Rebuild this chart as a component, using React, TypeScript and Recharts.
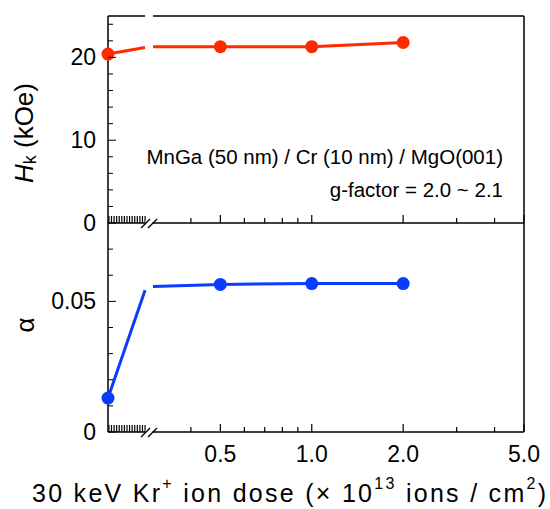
import { Line, LineChart, ReferenceLine, XAxis, YAxis } from 'recharts';

const FONT = 'Arial, "Liberation Sans", Helvetica, sans-serif';
const RED = '#ff2a00';
const BLUE = '#0a3cff';
const INK = '#000';

// dose 0 is the unirradiated film, drawn at the left end of the broken axis
const doses = [0, 0.5, 1.0, 2.0];
const hkValues = [20.4, 21.3, 21.3, 21.8];
const alphaValues = [0.013, 0.0565, 0.0568, 0.0568];
// value of each curve where it meets the axis break (left side, right side)
const hkAtBreak = [21.2, 21.3];
const alphaAtBreak = [0.0543, 0.0557];

const majorDoseTicks = [0.5, 1.0, 2.0, 5.0];
const minorDoseTicks = [0.4, 0.6, 0.7, 0.8, 0.9, 3, 4];
const hkMajorTicks = [0, 10, 20];
const hkMinorTicks = [2, 4, 6, 8, 12, 14, 16, 18, 22, 24];
const alphaMajorTicks = [0, 0.05];
const alphaMinorTicks = [0.01, 0.02, 0.03, 0.04, 0.06, 0.07];

// x axis runs in log10(dose); the zero-dose sample sits left of the break
const X_MIN = -0.671;
const X_MAX = Math.log10(5);
const BREAK_LEFT = -0.549;
const BREAK_RIGHT = Math.log10(0.3);
const BREAK_MID = (BREAK_LEFT + BREAK_RIGHT) / 2;

type Tick = { v: number; kind: 'hatch' | 'break' | 'minor' | 'major' };

const hatchTicks: Tick[] = Array.from({ length: 15 }, (_, i) => ({
  v: X_MIN + 0.003 + i * 0.0085,
  kind: 'hatch',
}));
const xTicks: Tick[] = [
  ...hatchTicks,
  { v: BREAK_MID, kind: 'break' as const },
  ...minorDoseTicks.map((d) => ({ v: Math.log10(d), kind: 'minor' as const })),
  ...majorDoseTicks.map((d) => ({ v: Math.log10(d), kind: 'major' as const })),
].sort((a, b) => a.v - b.v);

const toTicks = (major: number[], minor: number[]): Tick[] =>
  [
    ...major.map((v) => ({ v, kind: 'major' as const })),
    ...minor.map((v) => ({ v, kind: 'minor' as const })),
  ].sort((a, b) => a.v - b.v);

const hkTicks = toTicks(hkMajorTicks, hkMinorTicks);
const alphaTicks = toTicks(alphaMajorTicks, alphaMinorTicks);

function buildRows(values: number[], atBreak: number[]) {
  return [
    { x: X_MIN, y: values[0], point: true },
    { x: BREAK_LEFT, y: atBreak[0], point: false },
    { x: BREAK_MID, y: null, point: false },
    { x: BREAK_RIGHT, y: atBreak[1], point: false },
    ...doses.slice(1).map((d, i) => ({ x: Math.log10(d), y: values[i + 1], point: true })),
  ];
}

const hkRows = buildRows(hkValues, hkAtBreak);
const alphaRows = buildRows(alphaValues, alphaAtBreak);

const textStyle = { fontFamily: FONT, fontWeight: 400 };

// tick marks only; the dose numbers come from a separate label axis
function XTick(props: any) {
  const { x, y, index } = props;
  const t = xTicks[index];
  if (!t) return <g />;
  if (t.kind === 'break') {
    return (
      <g stroke={INK} strokeWidth={1.3}>
        <rect x={x - 3.5} y={y - 2} width={7} height={4} fill="#fff" stroke="none" />
        <line x1={x - 8} y1={y + 5} x2={x + 1} y2={y - 4} />
        <line x1={x - 1} y1={y + 5} x2={x + 8} y2={y - 4} />
      </g>
    );
  }
  const len = t.kind === 'major' ? 8 : t.kind === 'hatch' ? 7 : 5;
  return <line x1={x} y1={y} x2={x} y2={y - len} stroke={INK} strokeWidth={1.2} />;
}

function YTick(props: any) {
  const { x, y, index, ticks, format } = props;
  const t: Tick = ticks[index];
  if (!t) return <g />;
  const len = t.kind === 'major' ? 8 : 5;
  return (
    <g>
      <line x1={x} y1={y} x2={x + len} y2={y} stroke={INK} strokeWidth={1} />
      {t.kind === 'major' && (
        <text x={x - 12} y={y} textAnchor="end" dominantBaseline="central" fontSize={23} style={textStyle} fill={INK}>
          {format(t.v)}
        </text>
      )}
    </g>
  );
}

const dot = (color: string) => (p: any) =>
  p.payload.point ? <circle key={p.index} cx={p.cx} cy={p.cy} r={6.5} fill={color} /> : <g key={p.index} />;

const HkTitle = () => (
  <text x={24} y={133} transform="rotate(-90 24 133)" textAnchor="middle" dominantBaseline="central" fontSize={26} style={textStyle} fill={INK}>
    <tspan fontStyle="italic">H</tspan>
    <tspan fontSize={18} dy={6}>k</tspan>
    <tspan dy={-6}> (kOe)</tspan>
  </text>
);

const AlphaTitle = () => (
  <text x={25} y={112} transform="rotate(-90 25 112)" textAnchor="middle" dominantBaseline="central" fontSize={26} style={textStyle} fill={INK}>
    α
  </text>
);

const DoseTitle = (props: any) => {
  const y = Math.round(props.viewBox.y + 60);
  return (
    <text x={289} y={y} textAnchor="middle" dominantBaseline="central" fontSize={25} textLength={514} lengthAdjust="spacing" style={textStyle} fill={INK}>
      30 keV Kr
      <tspan fontSize={16} dy={-10}>+</tspan>
      <tspan dy={10}> ion dose (× 10</tspan>
      <tspan fontSize={16} dy={-10}>13</tspan>
      <tspan dy={10}> ions / cm</tspan>
      <tspan fontSize={16} dy={-10}>2</tspan>
      <tspan dy={10}>)</tspan>
    </text>
  );
};

const axisLine = { stroke: INK, strokeWidth: 1.5 };

export default function App() {
  return (
    <div style={{ position: 'absolute', left: 0, top: 0, width: 550, height: 509, background: '#fff', fontFamily: FONT }}>
      <div style={{ position: 'absolute', left: 0, top: 0 }}>
        <LineChart width={550} height={245} data={hkRows} margin={{ top: 16, right: 26, bottom: 0, left: 0 }}>
          <XAxis
            type="number"
            dataKey="x"
            domain={[X_MIN, X_MAX]}
            ticks={xTicks.map((t) => t.v)}
            interval={0}
            height={22}
            tickSize={0}
            tickMargin={0}
            tickLine={false}
            axisLine={axisLine}
            tick={<XTick />}
          />
          <YAxis
            type="number"
            domain={[0, 25]}
            ticks={hkTicks.map((t) => t.v)}
            interval={0}
            width={108}
            tickSize={0}
            tickMargin={0}
            tickLine={false}
            axisLine={axisLine}
            tick={<YTick ticks={hkTicks} format={(v: number) => String(v)} />}
            label={{ content: () => <HkTitle /> }}
          />
          <ReferenceLine segment={[{ x: X_MIN, y: 25 }, { x: BREAK_LEFT, y: 25 }]} stroke={INK} strokeWidth={1.5} />
          <ReferenceLine segment={[{ x: BREAK_RIGHT, y: 25 }, { x: X_MAX, y: 25 }]} stroke={INK} strokeWidth={1.5} />
          <ReferenceLine x={X_MAX} stroke={INK} strokeWidth={1.5} />
          <Line
            dataKey="y"
            type="linear"
            stroke={RED}
            strokeWidth={3}
            dot={dot(RED)}
            activeDot={false}
            connectNulls={false}
            isAnimationActive={false}
          />
        </LineChart>
      </div>
      <div style={{ position: 'absolute', left: 0, top: 213 }}>
        <LineChart width={550} height={296} data={alphaRows} margin={{ top: 10, right: 26, bottom: 0, left: 0 }}>
          <XAxis
            type="number"
            dataKey="x"
            domain={[X_MIN, X_MAX]}
            ticks={xTicks.map((t) => t.v)}
            interval={0}
            height={1}
            tickSize={0}
            tickMargin={0}
            tickLine={false}
            axisLine={axisLine}
            tick={<XTick />}
          />
          <XAxis
            xAxisId="labels"
            type="number"
            dataKey="x"
            domain={[X_MIN, X_MAX]}
            allowDataOverflow
            ticks={majorDoseTicks.map((d) => Math.log10(d))}
            tickFormatter={(v: number) => Math.pow(10, v).toFixed(1)}
            interval={0}
            height={76}
            tickSize={0}
            tickMargin={13}
            tickLine={false}
            axisLine={false}
            tick={{ fontSize: 23, fill: INK, fontFamily: FONT }}
            label={{ content: (p: any) => <DoseTitle {...p} /> }}
          />
          <YAxis
            type="number"
            domain={[0, 0.08]}
            ticks={alphaTicks.map((t) => t.v)}
            interval={0}
            width={108}
            tickSize={0}
            tickMargin={0}
            tickLine={false}
            axisLine={axisLine}
            tick={<YTick ticks={alphaTicks} format={(v: number) => (v === 0 ? '0' : v.toFixed(2))} />}
            label={{ content: () => <AlphaTitle /> }}
          />
          <ReferenceLine x={X_MAX} stroke={INK} strokeWidth={1.5} />
          <Line
            dataKey="y"
            type="linear"
            stroke={BLUE}
            strokeWidth={3}
            dot={dot(BLUE)}
            activeDot={false}
            connectNulls={false}
            isAnimationActive={false}
          />
        </LineChart>
      </div>
      <div style={{ position: 'absolute', right: 47, top: 145, fontSize: 20.5, lineHeight: '24px', color: INK, whiteSpace: 'nowrap' }}>
        MnGa (50 nm) / Cr (10 nm) / MgO(001)
      </div>
      <div style={{ position: 'absolute', right: 47, top: 178, fontSize: 20.5, lineHeight: '24px', color: INK, whiteSpace: 'nowrap' }}>
        g-factor = 2.0 ~ 2.1
      </div>
    </div>
  );
}
